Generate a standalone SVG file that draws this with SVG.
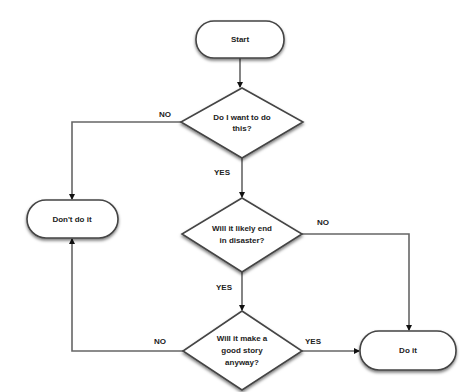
<svg xmlns="http://www.w3.org/2000/svg" width="473" height="392" viewBox="0 0 473 392">
<defs>
<filter id="sh" x="-20%" y="-20%" width="140%" height="160%">
<feDropShadow dx="0" dy="2" stdDeviation="1.5" flood-color="#000" flood-opacity="0.5"/>
</filter>
<marker id="ah" markerWidth="6" markerHeight="6" refX="5" refY="3" orient="auto" markerUnits="userSpaceOnUse">
<path d="M0,0 L6,3 L0,6 Z" fill="#111"/>
</marker>
<style>
.shape{fill:#fff;stroke:#444;stroke-width:1.6;filter:url(#sh)}
.edge{fill:none;stroke:#666;stroke-width:1.6;marker-end:url(#ah)}
text{font-family:"Liberation Sans",Arial,sans-serif;font-size:8px;font-weight:bold;fill:#222;text-anchor:middle}
</style>
</defs>
<rect width="473" height="392" fill="#fff"/>
<g id="connectors">
<path class="edge" d="M240,58 L240,87"/>
<path class="edge" d="M181,122 L72,122 L72,199"/>
<path class="edge" d="M242,158 L242,197"/>
<path class="edge" d="M302,234 L409,234 L409,330"/>
<path class="edge" d="M242,272 L242,310"/>
<path class="edge" d="M183,351 L72,351 L72,239"/>
<path class="edge" d="M302,351 L359,351"/>
<text x="165" y="117">NO</text>
<text x="222" y="175">YES</text>
<text x="323" y="225">NO</text>
<text x="224" y="290">YES</text>
<text x="160" y="344">NO</text>
<text x="313" y="344">YES</text>
</g>
<g id="start">
<rect class="shape" x="196" y="21" width="88" height="37" rx="18" ry="18"/>
<text x="240" y="42">Start</text>
</g>
<g id="q1">
<polygon class="shape" points="242,88 303,122 242,158 181,122"/>
<text x="242" y="120">Do I want to do</text>
<text x="242" y="131">this?</text>
</g>
<g id="dont">
<rect class="shape" x="27" y="200" width="91" height="38" rx="19" ry="19"/>
<text x="72" y="222">Don't do it</text>
</g>
<g id="q2">
<polygon class="shape" points="242,198 302,234 242,272 182,234"/>
<text x="242" y="231">Will it likely end</text>
<text x="242" y="243">in disaster?</text>
</g>
<g id="q3">
<polygon class="shape" points="242,311 302,351 242,390 183,351"/>
<text x="242" y="341">Will it make a</text>
<text x="242" y="353">good story</text>
<text x="242" y="365">anyway?</text>
</g>
<g id="doit">
<rect class="shape" x="360" y="331" width="96" height="39" rx="19" ry="19"/>
<text x="408" y="353">Do it</text>
</g>
</svg>
